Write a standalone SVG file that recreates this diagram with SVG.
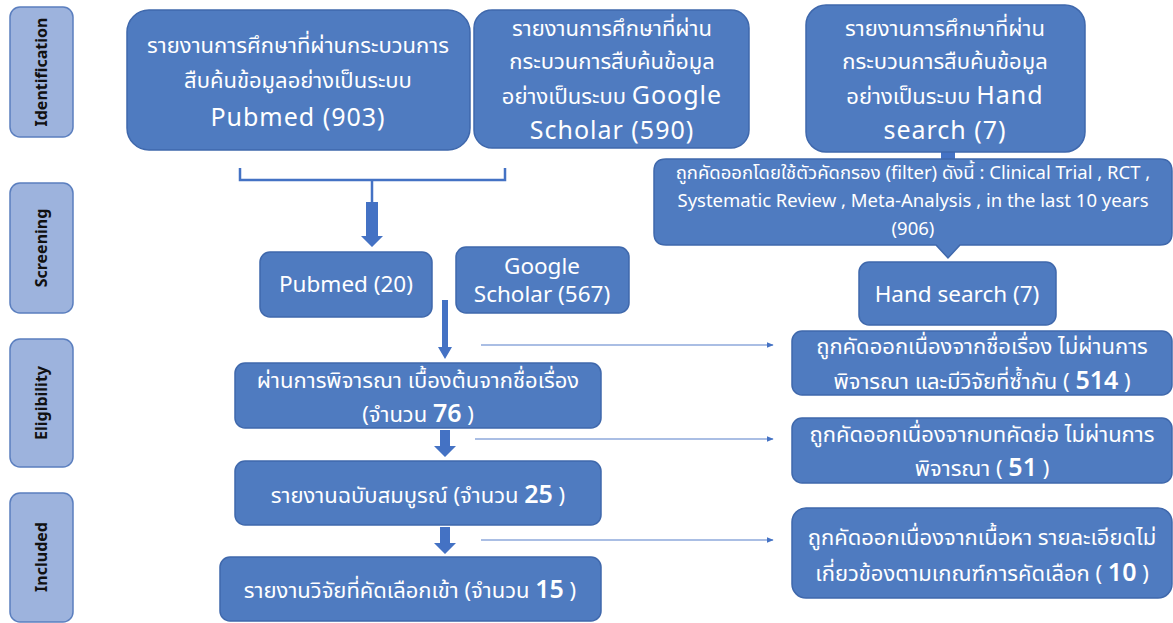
<svg xmlns="http://www.w3.org/2000/svg" width="1173" height="623" viewBox="0 0 1173 623">
<defs>
<style>
.box{fill:#4F7BC0;stroke:#3F68AC;stroke-width:1.5}
.lab{fill:#9DB3DD;stroke:#5B7FBF;stroke-width:1.5}
.lt{font-family:"Noto Sans","Open Sans","DejaVu Sans",sans-serif;font-weight:bold;font-size:16px;fill:#111;text-anchor:middle}
.th{font-family:"Noto Sans Thai","Noto Sans Thai Looped","Noto Sans","DejaVu Sans",sans-serif;font-size:22px;fill:#fff;text-anchor:middle}
.en{font-family:"Noto Sans","Open Sans",sans-serif;fill:#fff;text-anchor:middle}
.big{font-family:"Noto Sans","Open Sans",sans-serif;font-size:25px;letter-spacing:1px}
.num{font-family:"Noto Sans","Open Sans",sans-serif;font-size:25px;font-weight:600}
.thin{stroke:#8EA9DB;stroke-width:1.5;fill:none}
.blk{fill:#4472C4}
</style>
<marker id="ah" viewBox="0 0 10 10" refX="9" refY="5" markerWidth="7" markerHeight="7" markerUnits="userSpaceOnUse" orient="auto"><path d="M0,1 L10,5 L0,9 Z" fill="#4472C4"/></marker>
</defs>

<g id="label-identification"><rect class="lab" x="10" y="7" width="63" height="130" rx="10"/><text class="lt" transform="translate(47,72) rotate(-90)">Identification</text></g>
<g id="label-screening"><rect class="lab" x="10" y="183" width="63" height="130" rx="10"/><text class="lt" transform="translate(47,248) rotate(-90)">Screening</text></g>
<g id="label-eligibility"><rect class="lab" x="10" y="339" width="63" height="128" rx="10"/><text class="lt" transform="translate(47,403) rotate(-90)">Eligibility</text></g>
<g id="label-included"><rect class="lab" x="10" y="493" width="63" height="129" rx="10"/><text class="lt" transform="translate(47,557) rotate(-90)">Included</text></g>

<g id="connectors">
<path d="M240,168 V180 H505 V168 M372,180 V202" stroke="#4472C4" stroke-width="2.5" fill="none"/>
<path class="blk" d="M366,202 H378 V236 H383 L372,247 L361,236 H366 Z"/>
<rect class="blk" x="941" y="151" width="14" height="9"/>
<path class="blk" d="M442,300 H448 V347 H452 L445,359 L438,347 H442 Z"/>
<path class="blk" d="M440,430 H450 V446 H456 L445,457 L434,446 H440 Z"/>
<path class="blk" d="M440,527 H450 V543 H456 L445,554 L434,543 H440 Z"/>
<line class="thin" x1="481" y1="345" x2="773" y2="345" marker-end="url(#ah)"/>
<line class="thin" x1="475" y1="439" x2="773" y2="439" marker-end="url(#ah)"/>
<line class="thin" x1="481" y1="540" x2="773" y2="540" marker-end="url(#ah)"/>
</g>

<g id="pubmed-903"><rect class="box" x="127" y="10" width="343" height="140" rx="22"/>
<text class="th" x="298" y="53">รายงานการศึกษาที่ผ่านกระบวนการ</text>
<text class="th" x="298" y="88">สืบค้นข้อมูลอย่างเป็นระบบ</text>
<text class="en big" x="298" y="126">Pubmed (903)</text></g>

<g id="scholar-590"><rect class="box" x="474" y="10" width="275" height="138" rx="18"/>
<text class="th" x="612" y="36">รายงานการศึกษาที่ผ่าน</text>
<text class="th" x="612" y="69">กระบวนการสืบค้นข้อมูล</text>
<text class="th" x="612" y="104">อย่างเป็นระบบ <tspan class="big">Google</tspan></text>
<text class="en big" x="612" y="139">Scholar (590)</text></g>

<g id="hand-7"><rect class="box" x="806" y="5" width="279" height="147" rx="20"/>
<text class="th" x="945" y="36">รายงานการศึกษาที่ผ่าน</text>
<text class="th" x="945" y="69">กระบวนการสืบค้นข้อมูล</text>
<text class="th" x="945" y="104">อย่างเป็นระบบ <tspan class="big">Hand</tspan></text>
<text class="en big" x="945" y="139">search (7)</text></g>

<g id="filter-906"><path class="box" d="M666,159 H1160 Q1172,159 1172,171 V233 Q1172,245 1160,245 H960 L948,258 L936,245 H666 Q654,245 654,233 V171 Q654,159 666,159 Z"/>
<text class="th" x="913" y="179" style="font-size:18.5px">ถูกคัดออกโดยใช้ตัวคัดกรอง (filter) ดังนี้ : <tspan style="font-family:'Noto Sans','Open Sans',sans-serif">Clinical Trial , RCT ,</tspan></text>
<text class="en" x="913" y="207" font-size="18.5">Systematic Review , Meta-Analysis , in the last 10 years</text>
<text class="en" x="913" y="235" font-size="18.5">(906)</text></g>

<g id="pubmed-20"><rect class="box" x="260" y="252" width="172" height="65" rx="10"/>
<text class="en" x="346" y="292" font-size="22.5">Pubmed (20)</text></g>

<g id="scholar-567"><rect class="box" x="456" y="247" width="173" height="66" rx="10"/>
<text class="en" x="542" y="274" font-size="22.5">Google</text>
<text class="en" x="542" y="302" font-size="22.5">Scholar (567)</text></g>

<g id="hand-search-7"><rect class="box" x="859" y="262" width="197" height="63" rx="10"/>
<text class="en" x="957" y="302" font-size="22.5">Hand search (7)</text></g>

<g id="title-screen-76"><rect class="box" x="235" y="363" width="366" height="65" rx="10"/>
<text class="th" x="418" y="388">ผ่านการพิจารณา เบื้องต้นจากชื่อเรื่อง</text>
<text class="th" x="418" y="422">(จำนวน <tspan class="num" font-weight="normal">76</tspan>  )</text></g>

<g id="fulltext-25"><rect class="box" x="235" y="461" width="366" height="64" rx="10"/>
<text class="th" x="418" y="503">รายงานฉบับสมบูรณ์ (จำนวน  <tspan class="num">25</tspan>  )</text></g>

<g id="included-15"><rect class="box" x="220" y="557" width="381" height="64" rx="10"/>
<text class="th" x="410" y="598">รายงานวิจัยที่คัดเลือกเข้า (จำนวน  <tspan class="num">15</tspan>  )</text></g>

<g id="excluded-514"><rect class="box" x="792" y="331" width="380" height="64" rx="10"/>
<text class="th" x="982" y="354">ถูกคัดออกเนื่องจากชื่อเรื่อง ไม่ผ่านการ</text>
<text class="th" x="982" y="389">พิจารณา และมีวิจัยที่ซ้ำกัน ( <tspan class="num">514</tspan>  )</text></g>

<g id="excluded-51"><rect class="box" x="792" y="418" width="380" height="65" rx="10"/>
<text class="th" x="982" y="442">ถูกคัดออกเนื่องจากบทคัดย่อ ไม่ผ่านการ</text>
<text class="th" x="982" y="476">พิจารณา ( <tspan class="num">51</tspan> )</text></g>

<g id="excluded-10"><rect class="box" x="792" y="508" width="380" height="90" rx="14"/>
<text class="th" x="982" y="545">ถูกคัดออกเนื่องจากเนื้อหา รายละเอียดไม่</text>
<text class="th" x="982" y="581">เกี่ยวข้องตามเกณฑ์การคัดเลือก (  <tspan class="num">10</tspan> )</text></g>
</svg>
